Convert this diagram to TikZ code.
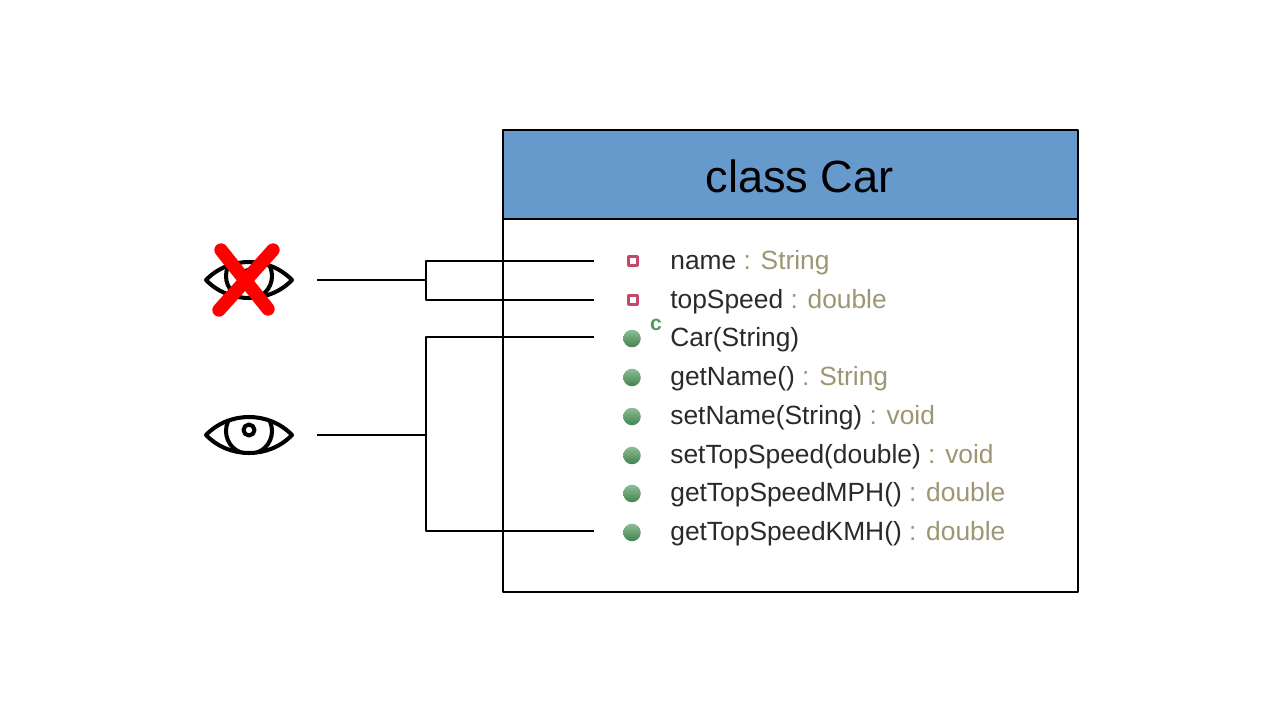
\documentclass[tikz,border=0pt]{standalone}
\usepackage{fontspec}
\setmainfont{Liberation Sans}
\definecolor{headblue}{HTML}{6699CC}
\definecolor{typetan}{HTML}{9C9674}
\definecolor{namegray}{HTML}{2A2A2A}
\definecolor{fieldred}{HTML}{C8466A}
\definecolor{methgreen}{HTML}{4E9A5C}
\tikzset{
	eyebox/.style={minimum width=2.72cm, minimum height=1cm, inner sep=0pt},
	itemtext/.style={right, inner sep=0pt, font=\fontsize{15}{15}\selectfont, text=namegray},
	fieldmark/.style={draw=fieldred, fill=white, line width=1.4pt, minimum size=5pt, inner sep=0pt},
	methmark/.style={circle, top color=methgreen!65!white, bottom color=methgreen!85!black, minimum size=10pt, inner sep=0pt},
	wire/.style={line width=1pt},
	pics/eye/.style={code={
		\begin{scope}
			\clip (-44,0) .. controls (-20,-25) and (20,-25) .. (44,0) .. controls (20,25) and (-20,25) .. (-44,0);
			\draw[line width=2.3pt] (0,-4) circle (23);
		\end{scope}
		\draw[line width=2.3pt, line join=round] (-43,0) .. controls (-20,-24) and (20,-24) .. (43,0) .. controls (20,24) and (-20,24) .. cycle;
		\draw[line width=2.3pt] (0,-5) circle (5.5);
	}}
}
\begin{document}
\begin{tikzpicture}[x=0.02cm, y=-0.02cm, line join=round]
	\useasboundingbox (0,0) rectangle (1280,720);
	% class box
	\draw[fill=headblue, line width=1pt] (503,130) rectangle (1078,219);
	\draw[line width=1pt] (503,219) rectangle (1078,592);
	\node[font=\fontsize{25.7}{25.7}\selectfont] (title) at (799.5,176) {class Car};
	% members
	\foreach \n/\y/\sig/\typ in {1/261/name/String, 2/300/topSpeed/double}{
		\node[fieldmark] (mark\n) at (633,\y) {};
		\node[itemtext] (item\n) at (670,\y+2) {\sig\textcolor{typetan}{\ : \typ}};
		\coordinate (port\n) at (594,\y);
	}
	\node[methmark] (mark3) at (632,338.5) {};
	\node[itemtext] (item3) at (670,340) {Car(String)};
	\coordinate (port3) at (594,337);
	\foreach \n/\y/\sig/\typ in {4/376/getName()/String, 5/415/setName(String)/void, 6/454/setTopSpeed(double)/void, 7/492/getTopSpeedMPH()/double, 8/531/getTopSpeedKMH()/double}{
		\node[methmark] (mark\n) at (632,\y+1.5) {};
		\node[itemtext] (item\n) at (670,\y+3) {\sig\textcolor{typetan}{\ : \typ}};
		\coordinate (port\n) at (594,\y);
	}
	\node[font=\fontsize{12}{12}\selectfont\bfseries, text=methgreen, inner sep=0pt] (ctor) at (656,325) {c};
	% eyes
	\node[eyebox] (eyeHidden) at (249,280) {};
	\node[eyebox] (eyeShown) at (249,435) {};
	\pic at (eyeHidden.center) {eye};
	\pic at (eyeShown.center) {eye};
	\draw[red, line width=7.6pt, line cap=round] (221,250) -- (268,309) (273,250) -- (219,310);
	% connectors
	\coordinate (forkHidden) at (426,280);
	\coordinate (forkShown) at (426,435);
	\draw[wire] (eyeHidden.east) -- (forkHidden);
	\draw[wire] (port1) -| (forkHidden) |- (port2);
	\draw[wire] (eyeShown.east) -- (forkShown);
	\draw[wire] (port3) -| (forkShown) |- (port8);
\end{tikzpicture}
\end{document}
